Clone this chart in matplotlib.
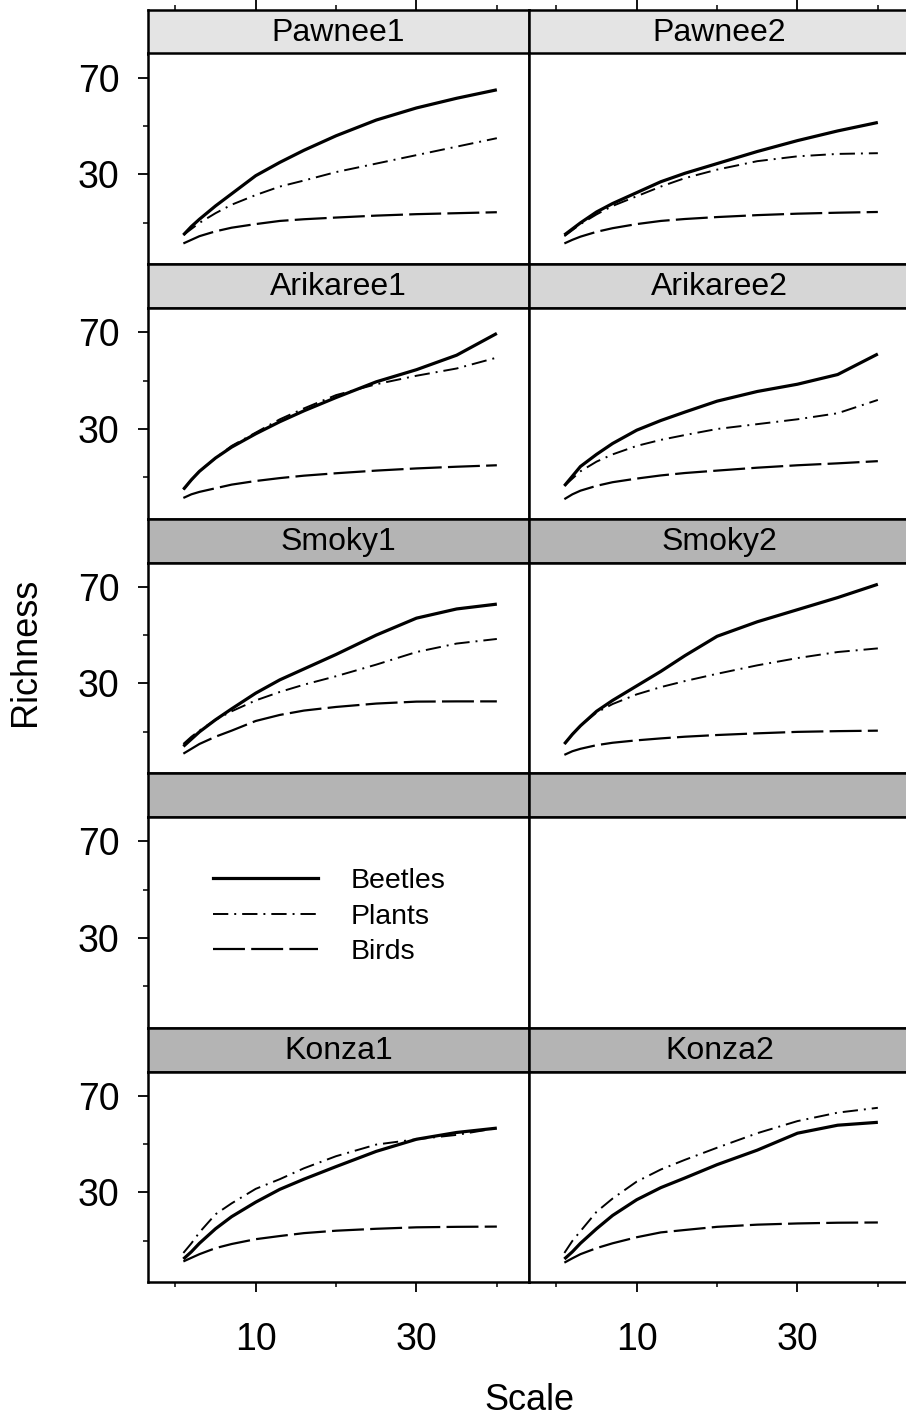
import matplotlib
matplotlib.use("Agg")
import matplotlib.pyplot as plt
from matplotlib.ticker import FixedLocator, NullFormatter

plt.rcParams['font.family'] = ['Liberation Sans', 'DejaVu Sans']
plt.rcParams['lines.scale_dashes'] = False

# sampling scale (x) shared by every curve
scale = [1, 2, 3, 5, 7, 10, 13, 16, 20, 25, 30, 35, 40]

pawnee1 = {
    'Beetles': [5, 8.5, 11.5, 17, 22, 29.5, 35, 40, 46, 52.5, 57.5, 61.5, 65],
    'Plants': [5, 7.5, 10, 14, 17.5, 21.5, 25, 27.5, 31, 34.5, 38, 41.5, 45],
    'Birds': [1.5, 3, 4.5, 6.5, 8, 9.5, 10.8, 11.5, 12.2, 13, 13.6, 14, 14.4],
}
pawnee2 = {
    'Beetles': [5, 7.5, 10, 14.5, 18, 22.5, 27, 30.5, 34.5, 39.5, 44, 48, 51.5],
    'Plants': [4.5, 7, 9.5, 13.5, 17, 21, 25, 28.5, 32, 35.5, 37.5, 38.5, 38.8],
    'Birds': [1.5, 3, 4.3, 6.3, 7.8, 9.5, 10.8, 11.6, 12.4, 13.2, 13.8, 14.2, 14.5],
}
arikaree1 = {
    'Beetles': [5, 9, 12.5, 18, 22.5, 28, 33, 37.5, 43, 49.5, 54.5, 60.5, 69.5],
    'Plants': [5, 9, 12.5, 18, 23, 28.5, 34, 38.5, 44, 48.5, 52, 55, 59.5],
    'Birds': [1.5, 3, 4, 5.5, 7, 8.5, 9.7, 10.7, 11.7, 12.8, 13.7, 14.4, 15],
}
arikaree2 = {
    'Beetles': [6.5, 10.5, 14.5, 19.5, 24, 29.5, 33.5, 37, 41.5, 45.5, 48.5, 52.5, 61],
    'Plants': [6.5, 9.5, 12.5, 16.5, 19.5, 23, 25.5, 27.5, 30, 32, 34, 36.5, 42],
    'Birds': [1, 3, 4.5, 6.5, 8, 9.5, 10.8, 11.8, 12.8, 14, 15, 15.8, 16.7],
}
smoky1 = {
    'Beetles': [4, 7, 10, 15, 19.5, 26, 31.5, 36, 42, 50, 57, 60.8, 62.8],
    'Plants': [5, 8, 10.5, 15, 18.5, 23, 26.5, 29.5, 33, 37.8, 43, 46.5, 48.4],
    'Birds': [1, 3, 5, 8, 10.5, 14.5, 17, 18.8, 20.3, 21.7, 22.5, 22.6, 22.6],
}
smoky2 = {
    'Beetles': [5, 9, 12.5, 18.5, 23, 29, 35, 41.5, 49.5, 55.5, 60.5, 65.5, 71],
    'Plants': [5, 9, 12.5, 18, 21.5, 25.5, 28.5, 31, 34, 37.5, 40.5, 43, 44.5],
    'Birds': [0.5, 2, 3, 4.5, 5.5, 6.5, 7.3, 8, 8.7, 9.4, 10, 10.3, 10.5],
}
konza1 = {
    'Beetles': [2.5, 5.5, 9, 15, 20, 26, 31.3, 35.5, 40.7, 47, 52, 54.8, 56.6],
    'Plants': [5, 9, 13.5, 21, 25.5, 31.5, 35.5, 40, 45, 49.8, 52, 53.8, 56.6],
    'Birds': [1.5, 3, 4.5, 7, 8.7, 10.7, 12, 13.2, 14.2, 15, 15.6, 15.8, 15.9],
}
konza2 = {
    'Beetles': [2.5, 5.5, 9, 15, 20.5, 27, 32, 36, 41.5, 47.5, 54.5, 57.8, 59],
    'Plants': [5, 10, 14, 22, 27.5, 34.5, 39.5, 43.5, 48.5, 54.5, 59.5, 63, 65],
    'Birds': [1, 2.8, 4.5, 7, 9, 11.5, 13.5, 14.5, 15.8, 16.7, 17.2, 17.5, 17.6],
}

sites = {
    'Pawnee1': pawnee1, 'Pawnee2': pawnee2,
    'Arikaree1': arikaree1, 'Arikaree2': arikaree2,
    'Smoky1': smoky1, 'Smoky2': smoky2,
    'Konza1': konza1, 'Konza2': konza2,
}
grid = [['Pawnee1', 'Pawnee2'],
        ['Arikaree1', 'Arikaree2'],
        ['Smoky1', 'Smoky2'],
        [None, None],
        ['Konza1', 'Konza2']]
strip_colors = ['#e4e4e4', '#d6d6d6', '#b4b4b4', '#b4b4b4', '#b4b4b4']

styles = {
    'Beetles': dict(lw=2.3, ls='-'),
    'Plants': dict(lw=1.4, ls=(0, (11, 4.3, 1.4, 4.3))),
    'Birds': dict(lw=1.6, ls=(0, (23, 4.5))),
}

W, H = 906, 1416
fig = plt.figure(figsize=(W / 100, H / 100), dpi=100)


def box(left, top, w, h):
    return [left / W, 1 - (top + h) / H, w / W, h / H]


col_left = [148, 529]
col_w = 381
row_pitch = 254.5
strip_h = 44
panel_h = 210.5
xlim = (-3.4, 44)
ylim = (-7, 80)


def set_x_ticks(ax):
    ax.xaxis.set_major_locator(FixedLocator([10, 30]))
    ax.xaxis.set_minor_locator(FixedLocator([0, 20, 40]))
    ax.tick_params(axis='x', which='major', length=7, width=1.3,
                   direction='out', labelsize=27, pad=22)
    ax.tick_params(axis='x', which='minor', length=3.5, width=1.1,
                   direction='out')


for r, row in enumerate(grid):
    top = 9.5 + row_pitch * r
    for c, name in enumerate(row):
        left = col_left[c]
        # strip
        sax = fig.add_axes(box(left, top, col_w, strip_h))
        sax.set_facecolor(strip_colors[r])
        sax.set_xlim(xlim)
        sax.set_yticks([])
        for sp in sax.spines.values():
            sp.set_linewidth(1.8)
        if r == 0:
            sax.xaxis.set_ticks_position('top')
            set_x_ticks(sax)
            sax.xaxis.set_major_formatter(NullFormatter())
        else:
            sax.set_xticks([])
        if name:
            sax.text(0.5, 0.47, name, transform=sax.transAxes, ha='center',
                     va='center', fontsize=23)

        # panel
        ax = fig.add_axes(box(left, top + strip_h, col_w, panel_h))
        ax.set_xlim(xlim)
        ax.set_ylim(ylim)
        for sp in ax.spines.values():
            sp.set_linewidth(1.8)
        if name:
            data = sites[name]
            for taxon in ['Beetles', 'Plants', 'Birds']:
                ax.plot(scale, data[taxon], color='black', label=taxon,
                        solid_capstyle='butt', **styles[taxon])
        elif c == 0:
            handles = [plt.Line2D([], [], color='black', **styles[t])
                       for t in ['Beetles', 'Plants', 'Birds']]
            ax.legend(handles, ['Beetles', 'Plants', 'Birds'],
                      loc='upper left', bbox_to_anchor=(0.17, 0.757),
                      frameon=False, fontsize=20.5, handlelength=3.7,
                      handletextpad=1.15, labelspacing=0.33,
                      borderaxespad=0, borderpad=0)

        if r == len(grid) - 1:
            set_x_ticks(ax)
        else:
            ax.set_xticks([])
            ax.set_xticks([], minor=True)

        if c == 0:
            ax.yaxis.set_major_locator(FixedLocator([30, 70]))
            ax.yaxis.set_minor_locator(FixedLocator([10, 50]))
            ax.tick_params(axis='y', which='major', length=7, width=1.3,
                           direction='out', labelsize=27, pad=13.5)
            ax.tick_params(axis='y', which='minor', length=3.5, width=1.1,
                           direction='out')
        else:
            ax.set_yticks([])
            ax.set_yticks([], minor=True)

fig.text(25 / W, 1 - 652 / H, 'Richness', rotation=90, ha='center',
         va='center', fontsize=26)
fig.text(529 / W, 1 - 1400 / H, 'Scale', ha='center', va='center',
         fontsize=26)

fig.savefig('out.png', dpi=100)
